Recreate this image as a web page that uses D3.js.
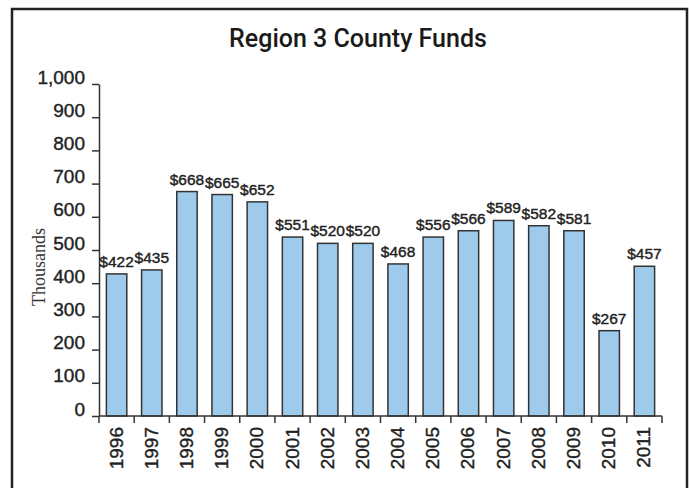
<!DOCTYPE html>
<html>
<head>
<meta charset="utf-8">
<script src="https://cdn.jsdelivr.net/npm/d3@7"></script>
<style>
  body { margin: 0; background: #fff; }
  svg { display: block; }
  .axis path, .axis line { stroke: #333; stroke-width: 1.5px; }
  .axis text, .vlab { fill: #222; font-family: "Liberation Sans", Arial, sans-serif;
                      stroke: #222; stroke-width: 0.4px; }
</style>
</head>
<body>
<svg id="chart" width="689" height="488"></svg>
<script>
// years on the x axis
var years = ["1996", "1997", "1998", "1999", "2000", "2001", "2002", "2003",
             "2004", "2005", "2006", "2007", "2008", "2009", "2010", "2011"];
// bar heights, thousands
var amounts = [428, 440, 676, 667, 645, 539, 520, 520, 458, 539, 558, 589, 573, 558, 257, 451];
// labels printed above the bars
var barLabels = ["$422", "$435", "$668", "$665", "$652", "$551", "$520", "$520",
                 "$468", "$556", "$566", "$589", "$582", "$581", "$267", "$457"];
var yTicks = [0, 100, 200, 300, 400, 500, 600, 700, 800, 900, 1000];

var svg = d3.select("#chart");

// outer frame
svg.append("rect")
    .attr("x", 12).attr("y", 9)
    .attr("width", 675).attr("height", 500)
    .attr("fill", "none")
    .attr("stroke", "#222")
    .attr("stroke-width", 2.5);

svg.append("text")
    .attr("x", 358).attr("y", 47)
    .attr("text-anchor", "middle")
    .style("font-family", "Roboto, sans-serif")
    .style("font-weight", 500)
    .style("font-size", "25px")
    .style("fill", "#1a1a1a")
    .text("Region 3 County Funds");

var x = d3.scaleBand().domain(years).range([99, 662]).paddingInner(0.42).paddingOuter(0.21);
var y = d3.scaleLinear().domain([0, 1000]).range([416, 84]);

var data = years.map(function(d, i) { return {year: d, value: amounts[i], label: barLabels[i]}; });

// y axis
var yAxis = svg.append("g")
    .attr("class", "axis")
    .attr("transform", "translate(99,0)")
    .call(d3.axisLeft(y).tickValues(yTicks).tickSize(7).tickPadding(7).tickSizeOuter(0)
        .tickFormat(d3.format(",")));
yAxis.selectAll("text").attr("dy", "-0.05em").style("font-size", "19px");

// bars
svg.append("g").selectAll("rect")
    .data(data)
    .enter().append("rect")
      .attr("x", function(d) { return x(d.year); })
      .attr("y", function(d) { return y(d.value); })
      .attr("width", x.bandwidth())
      .attr("height", function(d) { return y(0) - y(d.value); })
      .attr("fill", "#9ecbec")
      .attr("stroke", "#333")
      .attr("stroke-width", 1.5);

// x axis, ticks between the bars
var xAxis = svg.append("g")
    .attr("class", "axis")
    .attr("transform", "translate(0,416)");
xAxis.append("line")
    .attr("x1", x.range()[0]).attr("x2", x.range()[1]);
xAxis.selectAll(".tk")
    .data(years.concat(["end"]))
    .enter().append("line")
      .attr("class", "tk")
      .attr("x1", function(d, i) { return x.range()[0] + i * x.step(); })
      .attr("x2", function(d, i) { return x.range()[0] + i * x.step(); })
      .attr("y1", 0).attr("y2", 7);
xAxis.selectAll(".yr")
    .data(data)
    .enter().append("text")
      .attr("class", "yr")
      .attr("transform", function(d) {
          return "translate(" + (x(d.year) + x.bandwidth() / 2 + 6) + ",11) rotate(-90)";
      })
      .attr("text-anchor", "end")
      .style("font-size", "19px")
      .text(function(d) { return d.year; });

// value labels
svg.append("g").selectAll("text")
    .data(data)
    .enter().append("text")
      .attr("class", "vlab")
      .attr("x", function(d) { return x(d.year) + x.bandwidth() / 2; })
      .attr("y", function(d) { return y(d.value) - 7; })
      .attr("text-anchor", "middle")
      .style("font-size", "15.5px")
      .text(function(d) { return d.label; });

svg.append("text")
    .attr("transform", "translate(45,267) rotate(-90)")
    .attr("text-anchor", "middle")
    .style("font-family", "'Liberation Serif', serif")
    .style("font-size", "18px")
    .style("fill", "#333")
    .text("Thousands");
</script>
</body>
</html>
